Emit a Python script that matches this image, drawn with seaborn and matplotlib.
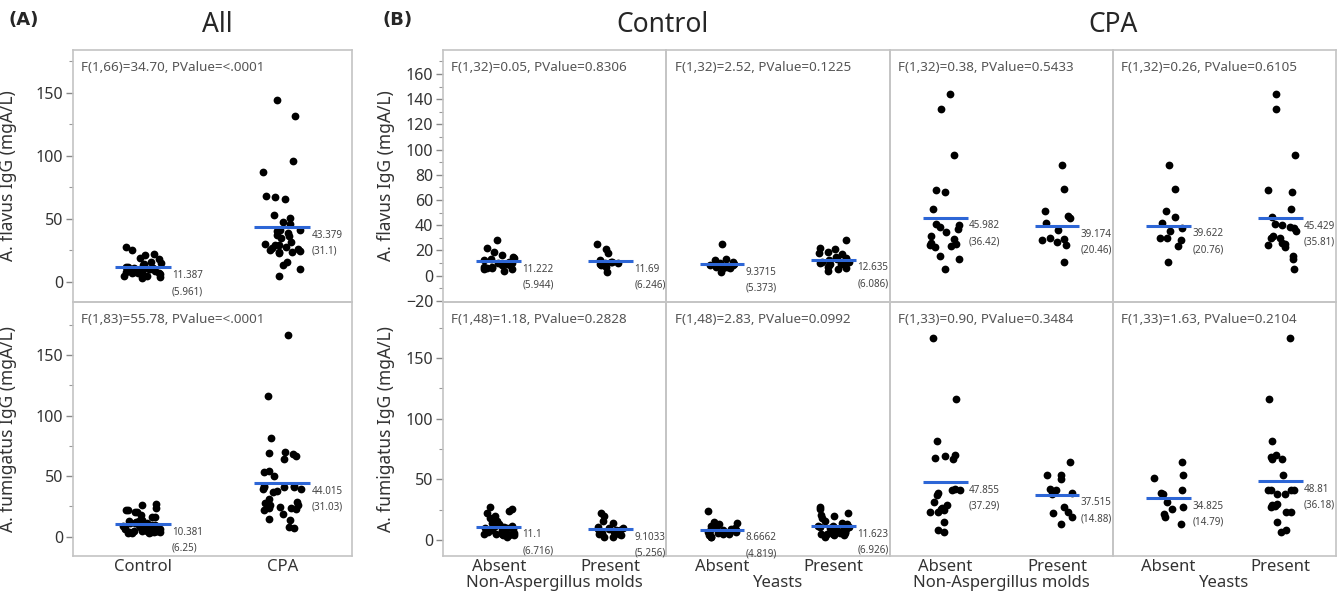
import numpy as np
import pandas as pd
import seaborn as sns
import matplotlib.pyplot as plt
from matplotlib.ticker import MultipleLocator

# --- valores (mgA/L) ---
# A. flavus IgG, Control
FLAV_CTRL_MOLD_ABS = [28, 22, 19, 16, 15, 14, 13, 12, 11, 10, 10, 9, 9, 8, 8, 7, 7, 6, 6, 5, 5, 4]
FLAV_CTRL_MOLD_PRE = [25, 21, 18, 12, 11, 11, 10, 10, 9, 8, 7, 3]
FLAV_CTRL_YEAST_ABS = [25, 13, 12, 11, 10, 9, 8, 8, 7, 7, 6, 6, 3]
FLAV_CTRL_YEAST_PRE = [28, 22, 21, 19, 18, 17, 15, 14, 13, 12, 11, 11, 10, 9, 9, 8, 8, 7, 6, 5, 4]
# A. flavus IgG, CPA
FLAV_CPA_MOLD_ABS = [144, 132, 96, 67.5, 66, 53, 41, 40, 38.5, 37, 34.5, 31.5, 29, 26, 25, 24, 23.5, 22.5, 15.5, 13, 5]
FLAV_CPA_MOLD_PRE = [87.5, 68.5, 51, 47.5, 46, 41.5, 36, 30, 29, 28, 27, 24.5, 10.5]
FLAV_CPA_YEAST_ABS = [87.5, 68.5, 51, 46.5, 42, 38, 35, 30, 29.5, 28, 23.5, 10.5]
FLAV_CPA_YEAST_PRE = [144, 132, 96, 67.5, 66, 53, 46.5, 41, 40, 38.5, 38, 35, 31, 30, 29.5, 26, 25, 24, 22.5, 15.5, 13, 5]
# A. fumigatus IgG, Control
FUM_CTRL_MOLD_ABS = [27, 26, 24, 22, 20, 18, 16, 14, 13, 12, 12, 11, 11, 10, 10, 9, 9, 8, 8, 8, 7, 7, 7, 6, 6, 5, 5, 5, 4, 4, 4, 3]
FUM_CTRL_MOLD_PRE = [22, 20, 16, 14, 11, 10, 10, 9, 9, 8, 8, 7, 6, 5, 5, 4, 3, 3]
FUM_CTRL_YEAST_ABS = [24, 15, 14, 13, 12, 11, 10, 10, 9, 9, 8, 8, 7, 7, 6, 5, 5, 4, 4, 3, 3]
FUM_CTRL_YEAST_PRE = [27, 26, 22, 21, 20, 18, 16, 14, 13, 12, 12, 11, 11, 10, 10, 9, 9, 8, 8, 7, 7, 6, 6, 5, 5, 5, 4, 4, 3]
# A. fumigatus IgG, CPA
FUM_CPA_MOLD_ABS = [166.5, 116.5, 81.5, 70, 69, 68, 67, 42, 41, 41, 39, 37, 31.5, 29, 26.5, 26, 24.5, 23.5, 23, 15, 8, 7]
FUM_CPA_MOLD_PRE = [64, 54, 53.5, 50, 42, 41, 39, 38, 27.5, 23.5, 22, 19, 13.5]
FUM_CPA_YEAST_ABS = [64, 53.5, 51, 41, 38.5, 38, 31.5, 27, 25.5, 21.5, 19, 13.5]
FUM_CPA_YEAST_PRE = [166.5, 116.5, 81.5, 70, 68.5, 67, 67, 53.5, 41.5, 41, 41, 41, 38, 38, 30, 29, 28, 27.5, 23.5, 23, 15, 8, 7]

# médias e desvios publicados (linha azul + rótulo)
ALL_GROUPS = ["Control", "CPA"]
SUB_GROUPS = ["Absent", "Present"]
FLAV_ALL_MEAN, FLAV_ALL_SD = [11.387, 43.379], [5.961, 31.1]
FUM_ALL_MEAN, FUM_ALL_SD = [10.381, 44.015], [6.25, 31.03]
FLAV_B_MEAN = [[11.222, 11.69], [9.3715, 12.635], [45.982, 39.174], [39.622, 45.429]]
FLAV_B_SD = [[5.944, 6.246], [5.373, 6.086], [36.42, 20.46], [20.76, 35.81]]
FUM_B_MEAN = [[11.1, 9.1033], [8.6662, 11.623], [47.855, 37.515], [34.825, 48.81]]
FUM_B_SD = [[6.716, 5.256], [4.819, 6.926], [37.29, 14.88], [14.79, 36.18]]
FLAV_ALL_F = "F(1,66)=34.70, PValue=<.0001"
FUM_ALL_F = "F(1,83)=55.78, PValue=<.0001"
FLAV_B_F = ["F(1,32)=0.05, PValue=0.8306", "F(1,32)=2.52, PValue=0.1225",
            "F(1,32)=0.38, PValue=0.5433", "F(1,32)=0.26, PValue=0.6105"]
FUM_B_F = ["F(1,48)=1.18, PValue=0.2828", "F(1,48)=2.83, PValue=0.0992",
           "F(1,33)=0.90, PValue=0.3484", "F(1,33)=1.63, PValue=0.2104"]
B_XLABELS = ["Non-Aspergillus molds", "Yeasts", "Non-Aspergillus molds", "Yeasts"]

FLAV_B_DATA = [(FLAV_CTRL_MOLD_ABS, FLAV_CTRL_MOLD_PRE), (FLAV_CTRL_YEAST_ABS, FLAV_CTRL_YEAST_PRE),
               (FLAV_CPA_MOLD_ABS, FLAV_CPA_MOLD_PRE), (FLAV_CPA_YEAST_ABS, FLAV_CPA_YEAST_PRE)]
FUM_B_DATA = [(FUM_CTRL_MOLD_ABS, FUM_CTRL_MOLD_PRE), (FUM_CTRL_YEAST_ABS, FUM_CTRL_YEAST_PRE),
              (FUM_CPA_MOLD_ABS, FUM_CPA_MOLD_PRE), (FUM_CPA_YEAST_ABS, FUM_CPA_YEAST_PRE)]

BLUE = "#2d66d6"
SPINE = "#c4c4c4"
TXT = "#333333"

sns.set_theme(style="white")
plt.rcParams["font.family"] = ["Noto Sans", "DejaVu Sans"]
np.random.seed(7)  # jitter reprodutível


def panel(ax, groups, vals, means, sds, ftext):
    df = pd.DataFrame({"grp": np.repeat(groups, [len(v) for v in vals]),
                       "val": np.concatenate([np.asarray(v, float) for v in vals])})
    sns.stripplot(data=df, x="grp", y="val", order=groups, color="black", size=5.6,
                  jitter=0.14, linewidth=0, ax=ax, zorder=3)
    for i, (m, s) in enumerate(zip(means, sds)):
        ax.hlines(m, i - 0.2, i + 0.2, color=BLUE, lw=2.2, zorder=4)
        ax.annotate(f"{m:g}\n({s:g})", xy=(i + 0.2, m), xytext=(1, -2), textcoords="offset points",
                    va="top", ha="left", fontsize=7.1, color="#444444", linespacing=1.6,
                    annotation_clip=False, zorder=5)
    ax.annotate(ftext, xy=(0, 1), xycoords="axes fraction", xytext=(6, -8),
                textcoords="offset points", va="top", ha="left", fontsize=9.7, color="#555555")
    ax.set_xlim(-0.5, 1.5)
    ax.set_xlabel("")
    ax.set_ylabel("")
    ax.set_facecolor("none")  # deixa o rótulo da média atravessar o divisor
    for sp in ax.spines.values():
        sp.set_color(SPINE)
        sp.set_linewidth(1.2)
    ax.tick_params(axis="x", length=0, labelsize=12, colors=TXT, pad=2)
    ax.tick_params(axis="y", which="major", length=5, width=1, color="#888888",
                   labelsize=11.5, labelcolor=TXT, pad=2, left=True)
    ax.tick_params(axis="y", which="minor", length=3, width=0.8, color="#999999", left=True)


def yaxis(ax, lim, major, minor, label, xpos):
    ax.set_ylim(*lim)
    ax.yaxis.set_major_locator(MultipleLocator(major))
    ax.yaxis.set_minor_locator(MultipleLocator(minor))
    ax.set_ylabel(label, fontsize=12.5, color=TXT)
    ax.yaxis.set_label_coords(xpos, 0.5)


fig = plt.figure(figsize=(13.41, 5.91), dpi=100)
W, H = 1341, 591
top_b, mid, bot = 1 - 50 / H, 1 - 302 / H, 1 - 556 / H

# --- (A) All ---
axA1 = fig.add_axes([73 / W, mid, 279 / W, top_b - mid])
axA2 = fig.add_axes([73 / W, bot, 279 / W, mid - bot])
panel(axA1, ALL_GROUPS, [FLAV_CTRL_MOLD_ABS + FLAV_CTRL_MOLD_PRE, FLAV_CPA_MOLD_ABS + FLAV_CPA_MOLD_PRE],
      FLAV_ALL_MEAN, FLAV_ALL_SD, FLAV_ALL_F)
panel(axA2, ALL_GROUPS, [FUM_CTRL_MOLD_ABS + FUM_CTRL_MOLD_PRE, FUM_CPA_MOLD_ABS + FUM_CPA_MOLD_PRE],
      FUM_ALL_MEAN, FUM_ALL_SD, FUM_ALL_F)
yaxis(axA1, (-16, 184), 50, 25, "A. flavus IgG (mgA/L)", -0.2)
yaxis(axA2, (-16, 194), 50, 25, "A. fumigatus IgG (mgA/L)", -0.2)
axA1.tick_params(axis="x", labelbottom=False)

# --- (B) subgrupos ---
bw = 223.25 / W
for j in range(4):
    x0 = 443 / W + j * bw
    a1 = fig.add_axes([x0, mid, bw, top_b - mid])
    a2 = fig.add_axes([x0, bot, bw, mid - bot])
    panel(a1, SUB_GROUPS, list(FLAV_B_DATA[j]), FLAV_B_MEAN[j], FLAV_B_SD[j], FLAV_B_F[j])
    panel(a2, SUB_GROUPS, list(FUM_B_DATA[j]), FUM_B_MEAN[j], FUM_B_SD[j], FUM_B_F[j])
    a1.set_ylim(-21, 179)
    a2.set_ylim(-13, 196)
    a1.tick_params(axis="x", labelbottom=False)
    a2.set_xlabel(B_XLABELS[j], fontsize=12, color=TXT, labelpad=0)
    if j == 0:
        yaxis(a1, (-21, 179), 20, 10, "A. flavus IgG (mgA/L)", -0.215)
        yaxis(a2, (-13, 196), 50, 25, "A. fumigatus IgG (mgA/L)", -0.215)
    else:
        for a in (a1, a2):
            a.tick_params(axis="y", which="both", left=False, labelleft=False)

# títulos
bold = ["DejaVu Sans"]
fig.text(8 / W, 1 - 20 / H, "(A)", fontsize=13, fontweight="bold", family=bold, va="center", ha="left")
fig.text(383 / W, 1 - 20 / H, "(B)", fontsize=13, fontweight="bold", family=bold, va="center", ha="left")
fig.text(217 / W, 1 - 25 / H, "All", fontsize=19, va="center", ha="center")
fig.text(663 / W, 1 - 25 / H, "Control", fontsize=19, va="center", ha="center")
fig.text(1113 / W, 1 - 25 / H, "CPA", fontsize=19, va="center", ha="center")

fig.savefig("out.png", dpi=100, facecolor="white")
